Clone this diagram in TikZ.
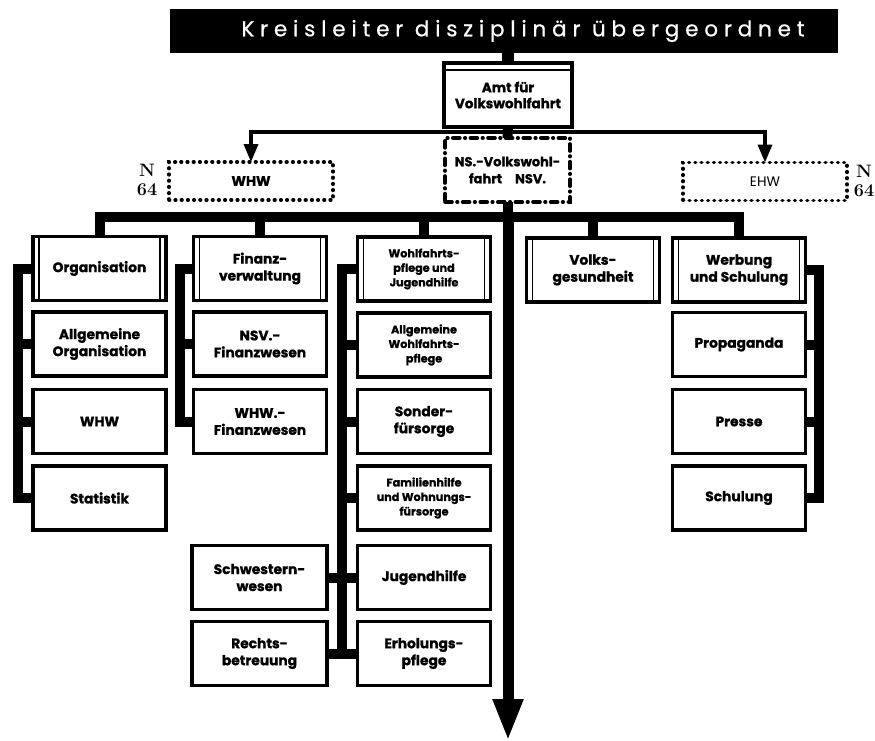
\documentclass[tikz,border=0pt]{standalone}
\usepackage{fontspec}
\newfontfamily\boxfont{Poppins}[BoldFeatures={FakeBold=1}]
\newfontfamily\bannerfont{Poppins}[LetterSpace=27, FakeBold=0.6]
\usetikzlibrary{arrows.meta}
\begin{document}
\begin{tikzpicture}[x=1pt,y=-1pt,
  box/.style={draw, line width=3.6pt, fill=white, minimum width=133pt, minimum height=64pt,
    align=center, inner sep=1pt, outer sep=0pt,
    font=\boxfont\bfseries\fontsize{13.8}{17}\selectfont},
  smalltext/.style={font=\boxfont\bfseries\fontsize{11.2}{14.5}\selectfont},
  head/.style={box, path picture={
    \draw[line width=1.4pt] ([xshift=6pt]path picture bounding box.north west) -- ([xshift=6pt]path picture bounding box.south west);
    \draw[line width=1.4pt] ([xshift=-6pt]path picture bounding box.north east) -- ([xshift=-6pt]path picture bounding box.south east);}},
  amtbox/.style={box, minimum width=128pt, minimum height=64pt, path picture={
    \draw[line width=1.4pt] ([yshift=-7pt]path picture bounding box.north west) -- ([yshift=-7pt]path picture bounding box.north east);}},
  dotbox/.style={draw, line width=3.6pt, line cap=round, dash pattern=on 0.6pt off 5.6pt,
    fill=white, minimum width=164pt, minimum height=38pt, align=center, inner sep=1pt, outer sep=0pt,
    font=\boxfont\bfseries\fontsize{13.8}{17}\selectfont},
  nsvbox/.style={dotbox, dash pattern=on 7pt off 5pt on 0.6pt off 5pt, minimum width=125pt, minimum height=64pt,
    font=\boxfont\bfseries\fontsize{13}{17}\selectfont},
  bus/.style={line width=10pt},
  thinline/.style={line width=3.6pt},
  tip/.style={-{Triangle[length=18pt,width=14pt]}},
  nlabel/.style={font=\bfseries\fontsize{18}{19}\selectfont, align=center, inner sep=0pt}
]
\useasboundingbox (0,0) rectangle (875,741);

% banner
\node[fill=black, minimum width=668pt, minimum height=44pt, inner sep=0pt, outer sep=0pt] (banner) at (504,31) {};
\node[text=white, inner sep=0pt, font=\bannerfont\fontsize{21.5}{22}\selectfont] (bannertext) at (523,31) {Kreisleiter disziplinär übergeordnet};

% top level
\node[amtbox, font=\boxfont\bfseries\fontsize{13.5}{16}\selectfont] (amt) at (508,95) {Amt für\\Volkswohlfahrt};
\node[dotbox] (whwtop) at (251,181) {WHW};
\node[dotbox, font=\boxfont\fontsize{13.8}{17}\selectfont] (ehw) at (765,181.5) {EHW};
\node[nsvbox] (nsv) at (507.5,170) {NS.-Volkswohl-\\fahrt\quad NSV.};
\node[nlabel] (nl) at (147,180) {N\\64};
\node[nlabel] (nr) at (864,181) {N\\64};

% heading row
\node[head] (org) at (99.5,268.5) {Organisation};
\node[head] (fin) at (260,268.5) {Finanz-\\verwaltung};
\node[head, smalltext] (wohl) at (424,269) {Wohlfahrts-\\pflege und\\Jugendhilfe};
\node[head] (volk) at (593,270) {Volks-\\gesundheit};
\node[head] (werb) at (739,270) {Werbung\\und Schulung};

% column Organisation
\node[box] (allgorg) at (99.5,344) {Allgemeine\\Organisation};
\node[box] (whw) at (99.5,421.5) {WHW};
\node[box] (stat) at (99.5,498) {Statistik};

% column Finanzverwaltung
\node[box] (nsvfin) at (260,344) {NSV.-\\Finanzwesen};
\node[box] (whwfin) at (260,421.5) {WHW.-\\Finanzwesen};

% column Wohlfahrtspflege
\node[box, smalltext] (allgw) at (424,345) {Allgemeine\\Wohlfahrts-\\pflege};
\node[box] (sonder) at (424,421.5) {Sonder-\\fürsorge};
\node[box, smalltext] (fam) at (424,498) {Familienhilfe\\und Wohnungs-\\fürsorge};
\node[box] (jug) at (424,577.5) {Jugendhilfe};
\node[box] (erh) at (424,653.5) {Erholungs-\\pflege};
\node[box, minimum width=135pt] (schw) at (259.5,577.5) {Schwestern-\\wesen};
\node[box, minimum width=135pt] (recht) at (259.5,653.5) {Rechts-\\betreuung};

% column Werbung
\node[box] (prop) at (739,344.5) {Propaganda};
\node[box] (presse) at (739,421.5) {Presse};
\node[box] (schul) at (739,498) {Schulung};

% coordinates
\coordinate (split) at (508,132);
\coordinate (busy) at (508,217);
\coordinate (arrowtop) at (508,212);
\coordinate (arrowend) at (508,741);
\coordinate (railA) at (18,0);
\coordinate (railB) at (180,0);
\coordinate (railC) at (342,0);
\coordinate (railD) at (819,0);

% top connectors
\draw[bus, line width=12pt] (banner.south -| amt.north) -- (amt.north);
\draw[bus] (amt.south) -- (nsv.north);
\draw[thinline, tip] (split) -| (whwtop.north);
\draw[thinline, tip] (split) -| (ehw.north);
\draw[bus] (nsv.south) -- (nsv.south |- busy);

% main bus
\draw[bus] (org.north) |- (werb.north |- busy) -- (werb.north);
\draw[bus] (fin.north) -- (fin.north |- busy);
\draw[bus] (wohl.north) -- (wohl.north |- busy);
\draw[bus] (volk.north) -- (volk.north |- busy);
\draw[bus, line width=11pt, -{Triangle[length=42pt,width=28pt]}] (arrowtop) -- (arrowend);

% rails
\draw[bus] (org.west) -| (railA |- stat.west) -- (stat.west);
\draw[bus] (allgorg.west) -- (railA |- allgorg.west);
\draw[bus] (whw.west) -- (railA |- whw.west);

\draw[bus] (fin.west) -| (railB |- whwfin.west) -- (whwfin.west);
\draw[bus] (nsvfin.west) -- (railB |- nsvfin.west);

\draw[bus] (wohl.west) -| (railC |- erh.west) -- (erh.west);
\draw[bus] (allgw.west) -- (railC |- allgw.west);
\draw[bus] (sonder.west) -- (railC |- sonder.west);
\draw[bus] (fam.west) -- (railC |- fam.west);
\draw[bus] (jug.west) -- (railC |- jug.west);
\draw[bus] (schw.east) -- (railC |- schw.east);
\draw[bus] (recht.east) -- (railC |- recht.east);

\draw[bus] (werb.east) -| (railD |- schul.east) -- (schul.east);
\draw[bus] (prop.east) -- (railD |- prop.east);
\draw[bus] (presse.east) -- (railD |- presse.east);
\end{tikzpicture}
\end{document}
